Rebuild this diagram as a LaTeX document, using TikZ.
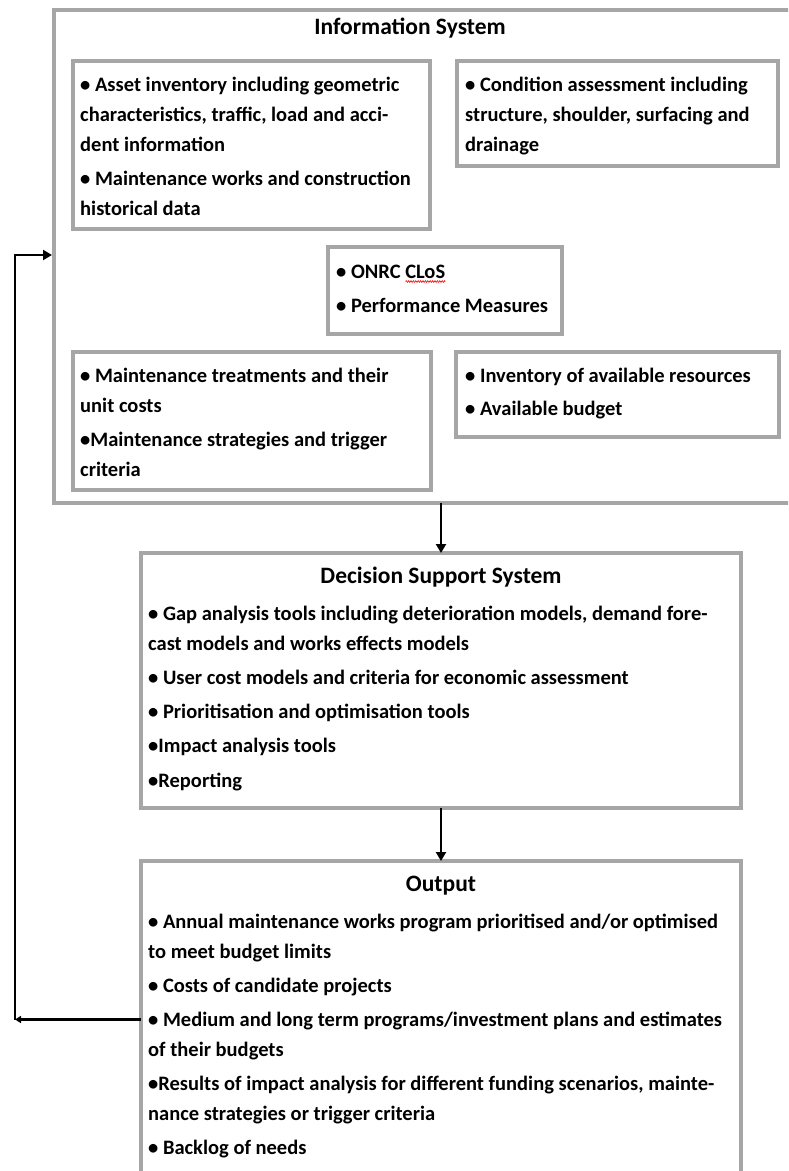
\documentclass[tikz,border=0pt]{standalone}
\usepackage{fontspec}
\setmainfont{Carlito}
\usetikzlibrary{arrows.meta,decorations.pathmorphing}
\definecolor{boxgray}{RGB}{166,166,166}
\newlength\sqwd
\newcommand\redsquig[1]{\settowidth\sqwd{#1}\rlap{\tikz[baseline=0pt]\draw[red,line width=0.6pt,decorate,decoration={zigzag,amplitude=0.9pt,segment length=2.4pt}] (0pt,-3.5pt) -- (\sqwd,-3.5pt);}#1}
\newcommand\bodyfont{\fontsize{20.5}{24}\selectfont\bfseries}
\newcommand\titlefont{\fontsize{23.5}{28}\selectfont\bfseries}
\begin{document}
\begin{tikzpicture}[x=1pt,y=-1pt,
  box/.style={draw=boxgray,line width=4pt,inner sep=0pt,outer sep=0pt,anchor=north west},
  txt/.style={anchor=base west,inner sep=0pt,font=\bodyfont},
  ttl/.style={anchor=base,inner sep=0pt,font=\titlefont},
  arr/.style={-{Triangle[length=9pt,width=10pt]},line width=2.2pt},
  fbarr/.style={-{Triangle[length=9pt,width=10pt]},line width=2.6pt},
  fbtip/.style={-{Triangle[length=6pt,width=7pt]},line width=2.6pt}]
\useasboundingbox (0,0) rectangle (788,1171);
\clip (0,0) rectangle (788,1171);

% boxes
\node[box,minimum width=750pt,minimum height=493pt] (info) at (54,10) {};
\node[box,minimum width=357pt,minimum height=168pt] (A) at (73,61) {};
\node[box,minimum width=321pt,minimum height=105pt] (B) at (457,61) {};
\node[box,minimum width=234pt,minimum height=87pt] (C) at (328,247) {};
\node[box,minimum width=358pt,minimum height=138pt] (D) at (73,352) {};
\node[box,minimum width=323pt,minimum height=85pt] (E) at (456,352) {};
\node[box,minimum width=600pt,minimum height=255pt] (dss) at (141,553) {};
\node[box,minimum width=600pt,minimum height=400pt] (out) at (141,861) {};

% Information system
\node[ttl] (infoT) at (410,34) {Information System};
\node[txt] (A1) at (80,91) {• Asset inventory including geometric};
\node[txt] (A2) at (80,121) {characteristics, traffic, load and acci-};
\node[txt] (A3) at (80,151) {dent information};
\node[txt] (A4) at (80,185) {• Maintenance works and construction};
\node[txt] (A5) at (80,215) {historical data};
\node[txt] (B1) at (465,91) {• Condition assessment including};
\node[txt] (B2) at (465,121) {structure, shoulder, surfacing and};
\node[txt] (B3) at (465,151) {drainage};
\node[txt] (C1) at (336,278) {• ONRC \redsquig{CLoS}};
\node[txt] (C2) at (336,312) {• Performance Measures};
\node[txt] (D1) at (80,382) {• Maintenance treatments and their};
\node[txt] (D2) at (80,412) {unit costs};
\node[txt] (D3) at (80,446) {•Maintenance strategies and trigger};
\node[txt] (D4) at (80,476) {criteria};
\node[txt] (E1) at (465,382) {• Inventory of available resources};
\node[txt] (E2) at (465,415) {• Available budget};

% Decision support system
\node[ttl] (dssT) at (441,583) {Decision Support System};
\node[txt] (S1) at (148,620) {• Gap analysis tools including deterioration models, demand fore-};
\node[txt] (S2) at (148,650) {cast models and works effects models};
\node[txt] (S3) at (148,684) {• User cost models and criteria for economic assessment};
\node[txt] (S4) at (148,718) {• Prioritisation and optimisation tools};
\node[txt] (S5) at (148,752) {•Impact analysis tools};
\node[txt] (S6) at (148,787) {•Reporting};

% Output
\node[ttl] (outT) at (441,891) {Output};
\node[txt] (O1) at (148,928) {• Annual maintenance works program prioritised and/or optimised};
\node[txt] (O2) at (148,958) {to meet budget limits};
\node[txt] (O3) at (148,992) {• Costs of candidate projects};
\node[txt] (O4) at (148,1026) {• Medium and long term programs/investment plans and estimates};
\node[txt] (O5) at (148,1056) {of their budgets};
\node[txt] (O6) at (148,1090) {•Results of impact analysis for different funding scenarios, mainte-};
\node[txt] (O7) at (148,1120) {nance strategies or trigger criteria};
\node[txt] (O8) at (148,1154) {• Backlog of needs};

% connectors
\draw[arr] (dss.north |- info.south) -- (dss.north);
\draw[arr] (dss.south) -- (out.north);
\coordinate (fbB) at (15,1019.5);
\coordinate (fbT) at (15,255);
\draw[fbtip] (out.west |- fbB) -- (fbB);
\draw[fbarr,shorten >=2pt] (fbB) -- (fbT) -- (info.west |- fbT);
\end{tikzpicture}
\end{document}
